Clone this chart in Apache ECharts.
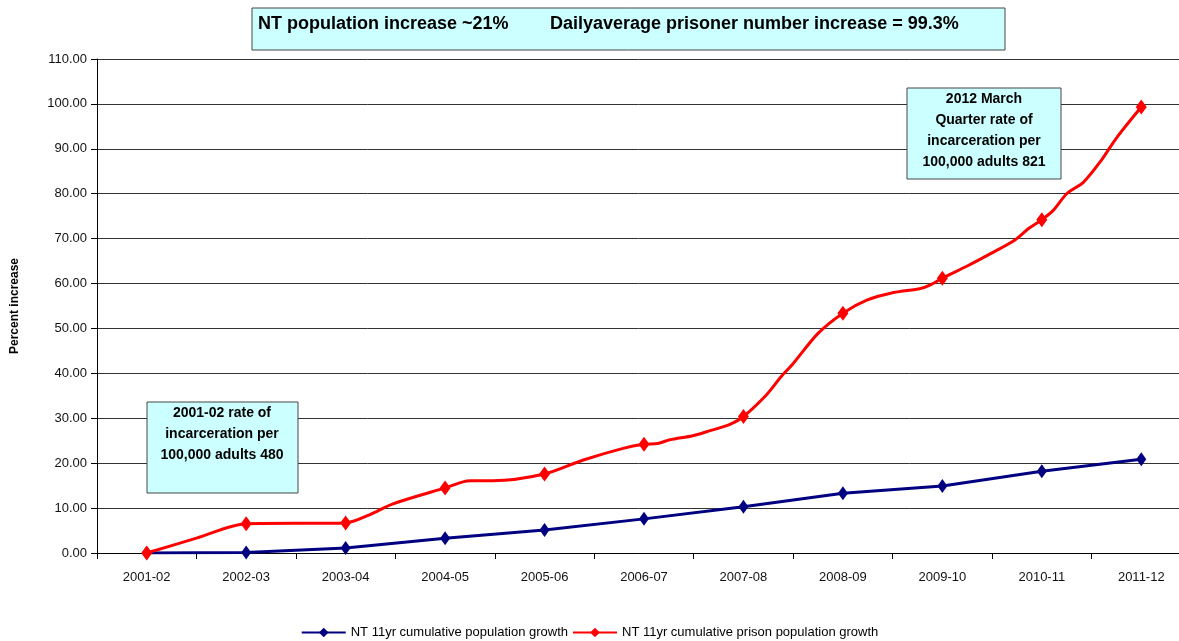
<!DOCTYPE html>
<html>
<head>
<meta charset="utf-8">
<script src="https://cdn.jsdelivr.net/npm/echarts@6/dist/echarts.min.js"></script>
<style>
html,body{margin:0;padding:0;background:#fff;}
#chart{width:1179px;height:641px;}
</style>
</head>
<body>
<div id="chart"></div>
<script>
var categories = ['2001-02','2002-03','2003-04','2004-05','2005-06','2006-07','2007-08','2008-09','2009-10','2010-11','2011-12'];
var populationGrowth = [0, 0.1, 1.1, 3.3, 5.1, 7.6, 10.3, 13.3, 14.9, 18.2, 20.9];
var prisonX = [0, 0.5, 1, 2, 2.24, 2.47, 3, 3.25, 3.48, 4, 4.39, 4.79, 5, 5.14, 5.26, 5.49, 5.63, 5.87, 6, 6.23, 6.38, 6.5, 6.75, 7, 7.24, 7.51, 7.78, 7.88, 8, 8.25, 8.48, 8.73, 8.87, 9, 9.12, 9.25, 9.42, 9.6, 9.75, 10];
var prisonY = [0, 3.3, 6.5, 6.7, 8.5, 10.9, 14.5, 16.1, 16.1, 17.6, 20.7, 23.3, 24.2, 24.4, 25.2, 26.1, 27.0, 28.7, 30.4, 35.2, 39.3, 42.2, 48.9, 53.4, 56.3, 58.0, 58.9, 59.7, 61.2, 63.9, 66.6, 69.7, 72.3, 74.2, 76.4, 80.0, 82.6, 87.5, 92.4, 99.3];
var seriesNames = ['NT 11yr cumulative population growth', 'NT 11yr cumulative prison population growth'];
var titleLeft = 'NT population increase ~21%';
var titleRight = 'Dailyaverage prisoner number increase = 99.3%';
var note1 = ['2001-02 rate of', 'incarceration per', '100,000 adults 480'];
var note2 = ['2012 March', 'Quarter rate of', 'incarceration per', '100,000 adults 821'];

var FONT = '"Liberation Sans", Arial, sans-serif';
var chart = echarts.init(document.getElementById('chart'));

var blueData = populationGrowth.map(function(v, i){ return [i, v]; });
var redData = prisonX.map(function(x, i){
  if (Number.isInteger(x)) return {value:[x, prisonY[i]]};
  return {value:[x, prisonY[i]], symbol:'none'};
});

chart.setOption({
  animation:false,
  backgroundColor:'#fff',
  grid:{left:97, top:59, width:1094, height:494, outerBoundsMode:'none', containLabel:false},
  xAxis:[{
    type:'category', data:categories, boundaryGap:true,
    axisLine:{lineStyle:{color:'#000', width:1}},
    axisTick:{show:true, interval:0, length:6, lineStyle:{color:'#000'}},
    axisLabel:{color:'#111', fontSize:13, fontFamily:FONT, margin:18, interval:0},
    splitLine:{show:false}
  },{
    type:'value', min:-0.5, max:10.5, show:false
  }],
  yAxis:{
    type:'value', min:0, max:110, interval:10,
    name:'Percent increase', nameLocation:'middle', nameRotate:90, nameGap:76,
    nameTextStyle:{fontWeight:'bold', fontSize:12, fontFamily:FONT, color:'#000'},
    axisLine:{show:true, onZero:false, lineStyle:{color:'#000'}},
    axisTick:{show:true, length:6, lineStyle:{color:'#000'}},
    axisLabel:{color:'#111', fontSize:13, fontFamily:FONT, margin:10,
      formatter:function(v){ return v.toFixed(2); }},
    splitLine:{lineStyle:{color:'#333', width:1}}
  },
  legend:{
    bottom:-3, left:'center', itemGap:4, itemWidth:44, itemHeight:12,
    textStyle:{fontSize:13, fontFamily:FONT, color:'#000'},
    data:seriesNames
  },
  series:[{
    name:seriesNames[0], type:'line', xAxisIndex:1, data:blueData,
    symbol:'diamond', symbolSize:[10,14], showSymbol:true,
    lineStyle:{color:'#000080', width:3}, itemStyle:{color:'#000080'}, z:3
  },{
    name:seriesNames[1], type:'line', xAxisIndex:1, data:redData,
    smooth:0.3, symbol:'diamond', symbolSize:[11,15], showSymbol:true,
    lineStyle:{color:'#ff0000', width:3}, itemStyle:{color:'#ff0000'}, z:4
  }],
  graphic:[
    {type:'rect', shape:{x:252, y:8, width:753, height:42}, style:{fill:'#ccffff', stroke:'#444', lineWidth:1}, z:10},
    {type:'text', left:258, top:15, style:{text:titleLeft, font:'bold 18px "Liberation Sans", Arial', fill:'#000'}, z:11},
    {type:'text', left:550, top:15, style:{text:titleRight, font:'bold 18px "Liberation Sans", Arial', fill:'#000'}, z:11},
    {type:'rect', shape:{x:147, y:402, width:151, height:91}, style:{fill:'#ccffff', stroke:'#444', lineWidth:1}, z:10},
    {type:'text', x:222, y:403, style:{text:note1.join('\n'), textAlign:'center', lineHeight:21, font:'bold 14px "Liberation Sans", Arial', fill:'#000'}, z:11},
    {type:'rect', shape:{x:907, y:88, width:154, height:91}, style:{fill:'#ccffff', stroke:'#444', lineWidth:1}, z:10},
    {type:'text', x:984, y:89, style:{text:note2.join('\n'), textAlign:'center', lineHeight:21, font:'bold 14px "Liberation Sans", Arial', fill:'#000'}, z:11}
  ]
});
</script>
</body>
</html>
